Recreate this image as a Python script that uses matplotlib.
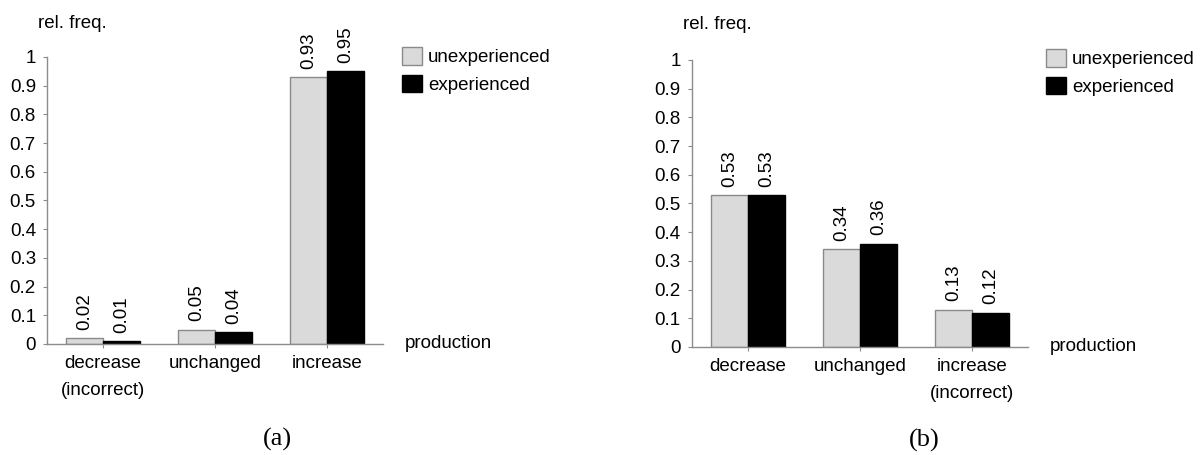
import matplotlib
matplotlib.use("Agg")
import matplotlib.pyplot as plt
import numpy as np

# panel (a)
cats_a = ["decrease\n(incorrect)", "unchanged", "increase"]
unexp_a = [0.02, 0.05, 0.93]
exp_a = [0.01, 0.04, 0.95]

# panel (b)
cats_b = ["decrease", "unchanged", "increase\n(incorrect)"]
unexp_b = [0.53, 0.34, 0.13]
exp_b = [0.53, 0.36, 0.12]

yticks = [0, 0.1, 0.2, 0.3, 0.4, 0.5, 0.6, 0.7, 0.8, 0.9, 1]
ytick_labels = ["0", "0.1", "0.2", "0.3", "0.4", "0.5", "0.6", "0.7", "0.8", "0.9", "1"]
series_names = ["unexperienced", "experienced"]

plt.rcParams["font.family"] = ["Liberation Sans", "DejaVu Sans"]
FS = 13.5
LIGHT = "#dadada"
EDGE = "#8a8a8a"
SPINE = "#8c8c8c"


def draw_panel(fig, rect, cats, unexp, exp, letter, leg_xy, prod_x, rel_xy, letter_xy):
    ax = fig.add_axes(rect)
    x = np.arange(len(cats))
    w = 1 / 3
    b1 = ax.bar(x - w / 2, unexp, w, color=LIGHT, edgecolor=EDGE, lw=1.0,
                label=series_names[0])
    b2 = ax.bar(x + w / 2, exp, w, color="black", edgecolor="black", lw=1.0,
                label=series_names[1])
    for bars, vals in ((b1, unexp), (b2, exp)):
        for r, v in zip(bars, vals):
            ax.annotate(f"{v:.2f}", (r.get_x() + r.get_width() / 2, v),
                        xytext=(0, 6), textcoords="offset points",
                        rotation=90, ha="center", va="bottom", fontsize=FS)
    ax.set_xlim(-0.5, 2.5)
    ax.set_ylim(0, 1)
    ax.set_yticks(yticks)
    ax.set_yticklabels(ytick_labels, fontsize=FS)
    ax.set_xticks(x)
    ax.set_xticklabels(cats, fontsize=FS)
    for t in ax.get_xticklabels():
        t.set_linespacing(1.75)
    ax.tick_params(axis="x", length=3, color=SPINE, pad=5)
    ax.tick_params(axis="y", length=3, color=SPINE, pad=5)
    for s in ("top", "right"):
        ax.spines[s].set_visible(False)
    for s in ("left", "bottom"):
        ax.spines[s].set_color(SPINE)
        ax.spines[s].set_linewidth(1.0)
    ax.text(rel_xy[0], rel_xy[1], "rel. freq.", transform=ax.transAxes,
            fontsize=FS, ha="left", va="center")
    ax.text(prod_x, 0.0, "production", transform=ax.transAxes,
            fontsize=FS, ha="left", va="center")
    ax.legend(loc="upper left", bbox_to_anchor=leg_xy, frameon=False,
              fontsize=FS, handlelength=1.07, handleheight=1.07,
              handletextpad=0.3, labelspacing=0.45, borderpad=0,
              borderaxespad=0)
    # figure letter under the panel
    ax.text(letter_xy[0], letter_xy[1], letter, transform=ax.transAxes,
            fontsize=19, family="Liberation Serif", ha="center", va="center")
    return ax


fig = plt.figure(figsize=(12.03, 4.55), dpi=100)
draw_panel(fig, [0.0391, 0.2440, 0.2793, 0.6308], cats_a, unexp_a, exp_a,
           "(a)", (1.057, 1.035), 1.065, (-0.027, 1.115), (0.685, -0.334))
draw_panel(fig, [0.5752, 0.2374, 0.2793, 0.6308], cats_b, unexp_b, exp_b,
           "(b)", (1.054, 1.038), 1.065, (-0.027, 1.125), (0.69, -0.324))
fig.savefig("out.png", dpi=100)
